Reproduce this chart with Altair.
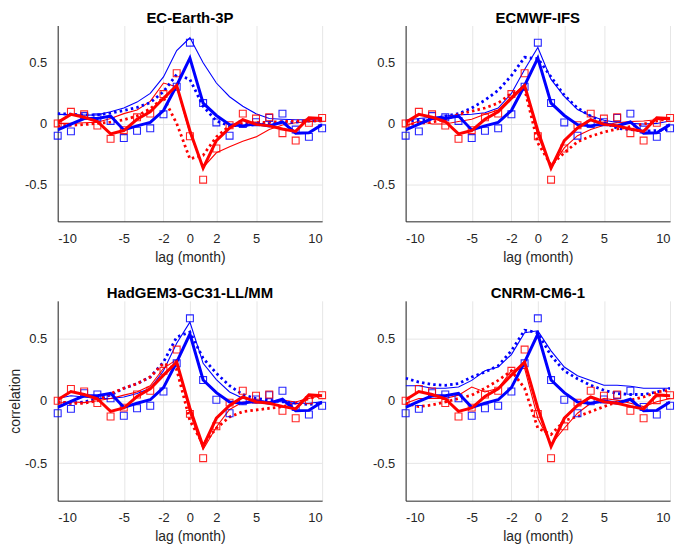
import altair as alt
import pandas as pd

lags = list(range(-10, 11))
panel_titles = ["EC-Earth-3P", "ECMWF-IFS", "HadGEM3-GC31-LL/MM", "CNRM-CM6-1"]
x_tick_values = [-10, -5, -2, 0, 2, 5, 10]
y_tick_values = [-0.5, 0, 0.5]

# observations (same in every panel)
obs_blue_squares = [-0.10, -0.065, 0.06, 0.05, 0.02, -0.12, -0.06, -0.04, 0.074, 0.30, 0.66,
                    0.166, 0.008, -0.10, -0.005, 0.01, 0.045, 0.08, -0.05, -0.11, -0.04]
obs_red_squares = [0.0, 0.095, 0.074, -0.018, -0.126, -0.055, 0.05, 0.08, 0.24, 0.41, -0.105,
                   -0.46, -0.205, -0.015, 0.08, 0.04, 0.05, -0.08, -0.14, 0.005, 0.045]
obs_blue_line = [-0.053, -0.005, 0.04, 0.04, 0.06, -0.053, -0.02, 0.008, 0.105, 0.31, 0.534,
                 0.166, 0.065, -0.01, -0.02, -0.002, -0.02, 0.012, -0.08, -0.077, -0.01]
obs_red_line = [0.008, 0.074, 0.05, 0.016, -0.085, -0.058, 0.034, 0.095, 0.205, 0.31, -0.06,
                -0.366, -0.14, -0.037, 0.03, -0.008, -0.02, -0.045, -0.065, 0.047, 0.04]

# EC-Earth-3P
ec_blue_thin = [0.074, 0.072, 0.068, 0.07, 0.095, 0.126, 0.174, 0.245, 0.38, 0.595, 0.70,
                0.495, 0.33, 0.218, 0.14, 0.079, 0.04, 0.034, 0.03, 0.03, 0.026]
ec_blue_dot = [0.08, 0.075, 0.07, 0.07, 0.085, 0.105, 0.13, 0.17, 0.26, 0.40, 0.36,
               0.14, 0.02, -0.02, -0.015, -0.01, 0.0, 0.005, 0.01, 0.02, 0.02]
ec_red_thin = [0.0, 0.0, 0.005, 0.01, 0.04, 0.08, 0.11, 0.18, 0.33, 0.30, -0.08,
               -0.36, -0.24, -0.19, -0.145, -0.11, -0.05, -0.013, 0.005, 0.015, 0.02]
ec_red_dot = [-0.02, -0.015, -0.01, 0.0, 0.01, 0.03, 0.06, 0.12, 0.21, 0.0, -0.29,
              -0.26, -0.11, -0.02, 0.0, 0.005, 0.01, 0.015, 0.02, 0.02, 0.02]

# ECMWF-IFS
ifs_blue_thin = [0.026, 0.04, 0.05, 0.06, 0.07, 0.075, 0.087, 0.126, 0.245, 0.44, 0.62,
                 0.36, 0.22, 0.113, 0.06, 0.026, 0.008, 0.0, -0.005, 0.0, 0.02]
ifs_blue_dot = [0.016, 0.026, 0.034, 0.06, 0.08, 0.126, 0.19, 0.27, 0.39, 0.54, 0.53,
                0.38, 0.23, 0.126, 0.06, 0.01, -0.04, -0.05, -0.063, -0.058, -0.05]
ifs_red_thin = [-0.02, 0.02, -0.005, -0.005, 0.016, 0.034, 0.074, 0.11, 0.22, 0.32, -0.1,
                -0.36, -0.2, -0.1, -0.05, -0.015, 0.005, 0.016, 0.02, 0.03, 0.034]
ifs_red_dot = [-0.005, 0.0, 0.01, 0.034, 0.074, 0.10, 0.126, 0.166, 0.245, 0.28, -0.16,
               -0.34, -0.24, -0.15, -0.105, -0.07, -0.045, -0.026, -0.005, 0.02, 0.04]

# HadGEM3-GC31-LL/MM
had_blue_thin = [0.018, 0.04, 0.03, 0.018, 0.018, 0.03, 0.058, 0.1, 0.24, 0.46, 0.63,
                 0.30, 0.17, 0.07, 0.02, 0.005, -0.008, -0.008, -0.02, -0.02, -0.008]
had_blue_dot = [-0.008, -0.02, -0.01, 0.018, 0.045, 0.1, 0.137, 0.19, 0.31, 0.51, 0.55,
                0.34, 0.22, 0.12, 0.05, 0.018, 0.005, -0.008, -0.02, -0.03, -0.02]
had_red_thin = [-0.02, -0.008, -0.015, 0.0, 0.018, 0.045, 0.07, 0.12, 0.26, 0.33, -0.1,
                -0.39, -0.21, -0.07, -0.01, -0.02, -0.008, 0.005, -0.01, 0.018, 0.045]
had_red_dot = [-0.008, -0.02, -0.02, 0.0, 0.058, 0.1, 0.137, 0.19, 0.30, 0.25, -0.16,
               -0.35, -0.22, -0.13, -0.087, -0.074, -0.06, -0.047, -0.02, 0.018, 0.045]

# CNRM-CM6-1
cnrm_blue_thin = [0.12, 0.12, 0.1, 0.1, 0.11, 0.163, 0.24, 0.27, 0.37, 0.545, 0.56,
                  0.4, 0.27, 0.2, 0.163, 0.124, 0.124, 0.116, 0.1, 0.1, 0.1]
cnrm_blue_dot = [0.18, 0.15, 0.13, 0.124, 0.137, 0.19, 0.23, 0.28, 0.4, 0.565, 0.545,
                 0.36, 0.24, 0.176, 0.124, 0.084, 0.058, 0.05, 0.05, 0.07, 0.1]
cnrm_red_thin = [-0.02, 0.018, 0.018, 0.018, 0.045, 0.11, 0.07, 0.1, 0.24, 0.26, -0.14,
                 -0.35, -0.22, -0.1, -0.02, 0.018, 0.005, -0.02, -0.047, -0.008, 0.018]
cnrm_red_dot = [-0.02, -0.047, -0.034, -0.01, 0.018, 0.045, 0.1, 0.163, 0.24, 0.1, -0.22,
                -0.27, -0.16, -0.126, -0.087, -0.047, -0.008, 0.005, 0.03, 0.07, 0.084]

BLUE = "#0000ff"
RED = "#ff0000"
FONT = "Liberation Sans"


def make_panel(title, blue_thin, blue_dot, red_thin, red_dot, ytitle, height):
    rows = []
    for name, vals in [("blue_thin", blue_thin), ("blue_dot", blue_dot),
                       ("red_thin", red_thin), ("red_dot", red_dot),
                       ("blue_sq", obs_blue_squares), ("red_sq", obs_red_squares),
                       ("blue_thick", obs_blue_line), ("red_thick", obs_red_line)]:
        for l, v in zip(lags, vals):
            rows.append({"lag": l, "value": v, "series": name})
    df = pd.DataFrame(rows)
    base = alt.Chart(df)

    x = alt.X("lag:Q",
              scale=alt.Scale(domain=[-10, 10], nice=False, zero=False),
              axis=alt.Axis(values=x_tick_values, title="lag (month)",
                            labelExpr="datum.value + ''"))
    yaxis_kw = dict(values=y_tick_values, labelExpr="datum.value + ''")
    yaxis_kw["title"] = "correlation" if ytitle else None
    y = alt.Y("value:Q",
              scale=alt.Scale(domain=[-0.8, 0.8], nice=False, zero=False),
              axis=alt.Axis(**yaxis_kw))

    def line(series, color, width, dash=None):
        kw = dict(color=color, strokeWidth=width, clip=True)
        if dash:
            kw["strokeDash"] = dash
        return (base.transform_filter(alt.datum.series == series)
                .mark_line(**kw).encode(x=x, y=y, order="lag:Q"))

    def squares(series, color):
        return (base.transform_filter(alt.datum.series == series)
                .mark_point(shape="square", filled=False, size=48, color=color,
                            strokeWidth=1.1, opacity=0.85)
                .encode(x=x, y=y))

    return alt.layer(
        line("blue_thin", BLUE, 1.1),
        line("red_thin", RED, 1.1),
        line("blue_dot", BLUE, 2.8, [2.5, 3.2]),
        line("red_dot", RED, 2.8, [2.5, 3.2]),
        squares("blue_sq", BLUE),
        squares("red_sq", RED),
        line("blue_thick", BLUE, 3),
        line("red_thick", RED, 3),
    ).properties(
        width=266, height=height,
        title=alt.TitleParams(title, fontSize=15, fontWeight="bold", font=FONT,
                              color="#000000", offset=0),
    )


p1 = make_panel(panel_titles[0], ec_blue_thin, ec_blue_dot, ec_red_thin, ec_red_dot, False, 197)
p2 = make_panel(panel_titles[1], ifs_blue_thin, ifs_blue_dot, ifs_red_thin, ifs_red_dot, False, 197)
p3 = make_panel(panel_titles[2], had_blue_thin, had_blue_dot, had_red_thin, had_red_dot, True, 201)
p4 = make_panel(panel_titles[3], cnrm_blue_thin, cnrm_blue_dot, cnrm_red_thin, cnrm_red_dot, False, 201)

chart = alt.concat(p1, p2, p3, p4, columns=2, spacing={"row": 80, "column": 84},
                   bounds="flush",
                   padding={"left": 0, "top": 0, "right": 0, "bottom": 0}).configure_view(
    stroke="transparent"
).configure_axis(
    labelFont=FONT, labelFontSize=13, labelColor="#262626",
    titleFont=FONT, titleFontSize=14, titleFontWeight="normal", titleColor="#262626",
    domainColor="#262626", domainWidth=1,
    gridColor="#e6e6e6", gridWidth=1,
    ticks=False,
).configure_axisY(titlePadding=2, labelPadding=11).configure_axisX(titlePadding=5, labelPadding=11)

chart.save("out.html", embed_options={"renderer": "svg", "actions": False})
